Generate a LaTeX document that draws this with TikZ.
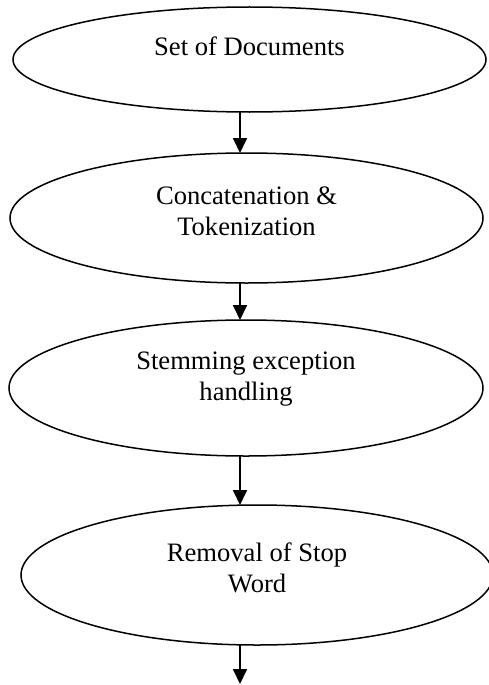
\documentclass[tikz,border=0pt]{standalone}
\usepackage{fontspec}
\setmainfont{Liberation Serif}
\usetikzlibrary{shapes.geometric,arrows.meta}
\begin{document}
\begin{tikzpicture}[x=1pt,y=-1pt,
  stage/.style={draw=black,line width=1.5pt,ellipse,inner sep=0pt,outer sep=0pt},
  stagetext/.style={align=center,inner sep=0pt,font=\fontsize{26.6}{31}\selectfont},
  flow/.style={line width=1.8pt,-{Triangle[length=15pt,width=14pt]}}]
\useasboundingbox (0,0) rectangle (489,685);
\begin{scope}
\clip (0,0) rectangle (489,685);
\node[stage,minimum width=473pt,minimum height=105pt] (e1) at (249.5,59.5) {};
\node[stage,minimum width=473pt,minimum height=130pt] (e2) at (246.5,218) {};
\node[stage,minimum width=474pt,minimum height=136pt] (e3) at (246,388) {};
\node[stage,minimum width=472pt,minimum height=140pt] (e4) at (257,575) {};
\end{scope}
\node[stagetext] (t1) at (249.5,46) {Set of Documents};
\node[stagetext] (t2) at (246.5,211.5) {Concatenation \&\\Tokenization};
\node[stagetext] (t3) at (246,379.5) {Stemming exception\\handling};
\node[stagetext] (t4) at (257,567.5) {Removal of Stop\\Word};
\coordinate (ax) at (240,0);
\coordinate (end) at (240,684);
\draw[flow] (e1.south -| ax) -- (e2.north -| ax);
\draw[flow] (e2.south -| ax) -- (e3.north -| ax);
\draw[flow] (e3.south -| ax) -- (e4.north -| ax);
\draw[flow] (e4.south -| ax) -- (end);
\end{tikzpicture}
\end{document}
